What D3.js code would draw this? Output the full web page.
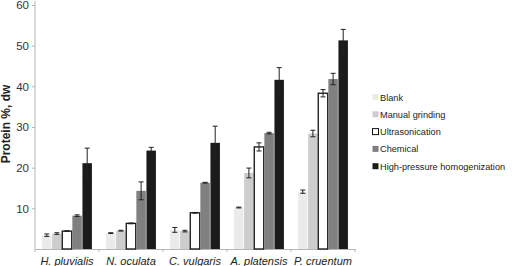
<!DOCTYPE html>
<html>
<head>
<meta charset="utf-8">
<script src="https://cdn.jsdelivr.net/npm/d3@7"></script>
<style>
  body { margin: 0; background: #fff; }
  svg { display: block; font-family: 'Liberation Sans', Arial, sans-serif; }
</style>
</head>
<body>
<svg id="chart" width="519" height="266"></svg>
<script>
const species = ['H. pluvialis', 'N. oculata', 'C. vulgaris', 'A. platensis', 'P. cruentum'];
const methods = ['Blank', 'Manual grinding', 'Ultrasonication', 'Chemical', 'High-pressure homogenization'];
// protein %, one row per method, in species order
const blank = [3.4, 3.9, 4.7, 10.2, 14.1];
const manualGrinding = [3.8, 4.5, 4.4, 18.7, 28.4];
const ultrasonication = [4.4, 6.3, 8.9, 25.1, 38.3];
const chemical = [8.2, 14.3, 16.3, 28.5, 41.8];
const highPressure = [21.1, 24.2, 26.1, 41.6, 51.3];
// standard deviations
const blankErr = [0.3, 0.1, 0.6, 0.1, 0.4];
const manualErr = [0.2, 0.1, 0.2, 1.2, 0.8];
const ultraErr = [0.1, 0.1, 0.1, 1.0, 0.9];
const chemicalErr = [0.2, 2.2, 0.1, 0.2, 1.4];
const highErr = [3.7, 0.8, 4.1, 3.0, 2.7];
const yTicks = [10, 20, 30, 40, 50, 60];

const values = [blank, manualGrinding, ultrasonication, chemical, highPressure];
const errors = [blankErr, manualErr, ultraErr, chemicalErr, highErr];
const fills = ['#ebebeb', '#cdcdcd', '#ffffff', '#808080', '#1b1b1b'];
const strokes = ['none', 'none', '#111', 'none', 'none'];

const margin = { top: 5, right: 164, bottom: 17, left: 35 };
const width = 519 - margin.left - margin.right;
const height = 266 - margin.top - margin.bottom;

const svg = d3.select('#chart');
const g = svg.append('g')
  .attr('transform', 'translate(' + margin.left + ',' + margin.top + ')');

const x0 = d3.scaleBand().domain(species).range([0, width]).padding(0);
const x1 = d3.scaleBand().domain(methods).range([0, x0.bandwidth()])
  .paddingInner(0.06).paddingOuter(0.7);
const y = d3.scaleLinear().domain([0, 60]).range([height, 0]);

// y axis
const yAxis = g.append('g')
  .call(d3.axisLeft(y).tickValues(yTicks).tickSize(3).tickPadding(3));
yAxis.select('.domain').attr('stroke', '#b5b5b5').attr('d', 'M0,' + height + 'V-4');
yAxis.selectAll('.tick line').attr('stroke', '#b5b5b5');
yAxis.selectAll('.tick text').attr('font-size', 11.5).attr('fill', '#333')
  .attr('font-family', "'Liberation Sans', Arial, sans-serif");

// x axis
const xAxis = g.append('g')
  .attr('transform', 'translate(0,' + height + ')')
  .call(d3.axisBottom(x0).tickSize(0).tickPadding(8));
xAxis.select('.domain').attr('stroke', '#b5b5b5');
xAxis.selectAll('.tick text').attr('font-size', 11).attr('fill', '#222')
  .attr('font-style', 'italic')
  .attr('font-family', "'Liberation Sans', Arial, sans-serif");
xAxis.selectAll('.sep')
  .data(d3.range(species.length + 1))
  .join('line')
  .attr('class', 'sep')
  .attr('x1', (i) => i * x0.step())
  .attr('x2', (i) => i * x0.step())
  .attr('y1', 0).attr('y2', 3)
  .attr('stroke', '#b5b5b5');

// bars
methods.forEach((m, mi) => {
  const grp = g.append('g');
  grp.selectAll('rect')
    .data(species)
    .join('rect')
    .attr('x', (s) => x0(s) + x1(m))
    .attr('y', (s, si) => y(values[mi][si]))
    .attr('width', x1.bandwidth())
    .attr('height', (s, si) => height - y(values[mi][si]))
    .attr('fill', fills[mi])
    .attr('stroke', strokes[mi])
    .attr('stroke-width', 1.3);

  // error bars
  species.forEach((s, si) => {
    const cx = x0(s) + x1(m) + x1.bandwidth() / 2;
    const hi = y(values[mi][si] + errors[mi][si]);
    const lo = y(values[mi][si] - errors[mi][si]);
    const eg = grp.append('g').attr('stroke', '#222').attr('stroke-width', 1);
    eg.append('line').attr('x1', cx).attr('x2', cx).attr('y1', hi).attr('y2', lo);
    eg.append('line').attr('x1', cx - 2.5).attr('x2', cx + 2.5).attr('y1', hi).attr('y2', hi);
    eg.append('line').attr('x1', cx - 2.5).attr('x2', cx + 2.5).attr('y1', lo).attr('y2', lo);
  });
});

// y label
svg.append('text')
  .attr('transform', 'translate(10,124) rotate(-90)')
  .attr('text-anchor', 'middle')
  .attr('font-size', 12)
  .attr('font-weight', 'bold')
  .attr('fill', '#222')
  .text('Protein %, dw');

// legend
const legend = svg.append('g').attr('transform', 'translate(372,97)');
methods.forEach((m, mi) => {
  const item = legend.append('g').attr('transform', 'translate(0,' + mi * 17.3 + ')');
  item.append('rect')
    .attr('x', 0.5).attr('y', -3)
    .attr('width', 6).attr('height', 6)
    .attr('fill', fills[mi])
    .attr('stroke', strokes[mi] === 'none' ? 'none' : '#111')
    .attr('stroke-width', 1);
  item.append('text')
    .attr('x', 8).attr('y', 3.5)
    .attr('font-size', 9.2)
    .attr('fill', '#222')
    .text(m);
});
</script>
</body>
</html>
